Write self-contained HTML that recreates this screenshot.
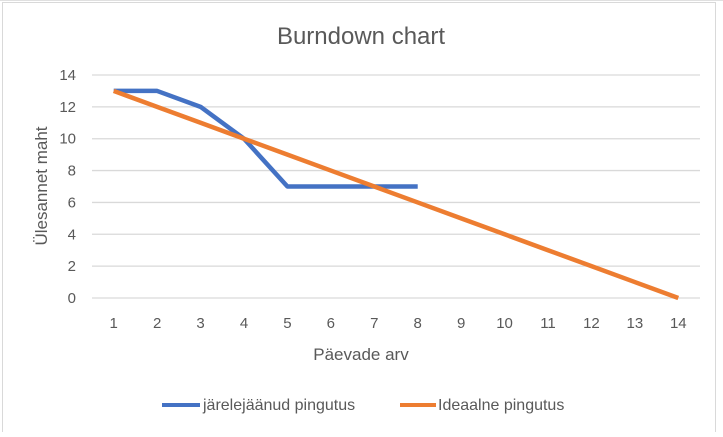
<!DOCTYPE html>
<html><head><meta charset="utf-8"><style>
body{margin:0;background:#fff;width:723px;height:432px;overflow:hidden;font-family:"Liberation Sans",sans-serif}
svg text{font-family:"Liberation Sans",sans-serif;fill:#595959}
</style></head><body>
<svg id="c" width="723" height="432">
<line x1="0" y1="0.5" x2="723" y2="0.5" stroke="#e0e0e0"/>
<rect x="2.5" y="2.5" width="713" height="440" fill="#fff" stroke="#d9d9d9"/>
<text x="361" y="44" font-size="24" text-anchor="middle">Burndown chart</text>
<g id="grid"></g><g id="ticks"></g><g id="series"></g>
<text x="361" y="360" font-size="17" text-anchor="middle">Päevade arv</text>
<text transform="translate(47,186) rotate(-90)" font-size="17" text-anchor="middle">Ülesannet maht</text>
<g>
<line x1="162" y1="405" x2="200" y2="405" stroke="#4472c4" stroke-width="4"/>
<text x="203" y="410" font-size="16">järelejäänud pingutus</text>
<line x1="400" y1="405" x2="436" y2="405" stroke="#ed7d31" stroke-width="4"/>
<text x="438" y="410" font-size="16">Ideaalne pingutus</text>
</g>
</svg>
<script>
const categories=[1,2,3,4,5,6,7,8,9,10,11,12,13,14];
const actualValues=[13,13,12,10,7,7,7,7];
const idealValues=[13,12,11,10,9,8,7,6,5,4,3,2,1,0];
const yTicks=[0,2,4,6,8,10,12,14];
const NS="http://www.w3.org/2000/svg";
const L=92,R=700,T=75,B=298,yMax=14;
const bw=(R-L)/categories.length;
const xS=i=>L+bw*(i+0.5);
const yS=v=>B-(v/yMax)*(B-T);
function mk(t,a,p){const e=document.createElementNS(NS,t);for(const k in a)e.setAttribute(k,a[k]);p.appendChild(e);return e;}
const grid=document.getElementById('grid'),ticks=document.getElementById('ticks'),series=document.getElementById('series');
yTicks.forEach(v=>{
 const g=mk('line',{x1:L,x2:R,y1:yS(v),y2:yS(v),stroke:'#d9d9d9','stroke-width':1.3},grid);
 
 
 const t=mk('text',{x:76,y:yS(v)+5,'font-size':15,'text-anchor':'end'},ticks);t.textContent=v;
 
 
});
categories.forEach((c,i)=>{
 const t=mk('text',{x:xS(i),y:328,'font-size':15,'text-anchor':'middle'},ticks);t.textContent=c;
 
 
});
function line(vals,col,name){
 const p=mk('polyline',{points:vals.map((v,i)=>xS(i)+','+yS(v)).join(' '),fill:'none',stroke:col,'stroke-width':4.5,'stroke-linejoin':'round'},series);
 
 
}
line(actualValues,'#4472c4','actual-line');
line(idealValues,'#ed7d31','ideal-line');
</script>
</body></html>
